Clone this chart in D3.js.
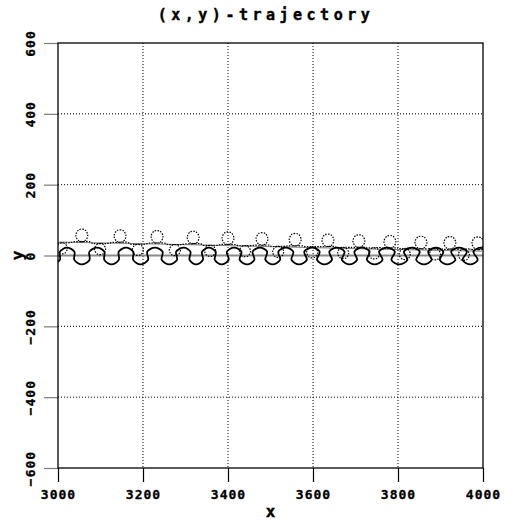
<!DOCTYPE html>
<html>
<head>
<meta charset="utf-8">
<script src="https://cdn.jsdelivr.net/npm/d3@7"></script>
<style>
  body { margin: 0; background: #fff; }
  text { font-family: "DejaVu Sans Mono", monospace; font-weight: bold; fill: #000; }
</style>
</head>
<body>
<div id="chart"></div>
<script>
// axis ticks
const xTicks = [3000, 3200, 3400, 3600, 3800, 4000];
const yTicks = [-600, -400, -200, 0, 200, 400, 600];

// solid trajectory: crests and troughs (x)
const solidPeakX   = [3021, 3092, 3160, 3228, 3296, 3355, 3414, 3475, 3536, 3598, 3656, 3715, 3774, 3833, 3889, 3944, 3995];
const solidTroughX = [2988, 3056, 3126, 3194, 3262, 3325, 3385, 3445, 3505, 3567, 3627, 3686, 3745, 3803, 3861, 3916, 3970, 4022];
const solidPeakY = 22;
const solidTroughY = -25;
// backward lean of the flanks (small loops on the right)
const solidLean = [0, 0, 0, 0, 0, 0, 1, 1, 1, 1, 1, 1, 2, 2, 2, 2, 2, 2, 3, 3, 3, 3, 3, 3, 4, 4, 4, 4, 4, 4, 5, 5, 5, 5];

// dotted trajectory: upper loops and lower loops (centre x, centre y)
const upperLoopX = [3056, 3146, 3233, 3318, 3400, 3480, 3558, 3635, 3708, 3781, 3854, 3922, 3988];
const upperLoopY = [57, 55, 53, 51, 49, 47, 45, 43, 41, 39, 37, 36, 35];
const lowerLoopX = [3009, 3099, 3188, 3275, 3358, 3440, 3518, 3598, 3671, 3744, 3816, 3887, 3955, 4020];
const lowerLoopY = [20, 18, 16, 15, 13, 12, 10, 9, 7, 6, 4, 3, 2, 1];
const upperLoopR = [14, 18];   // x, y radius in data units
const lowerLoopR = [13, 16];

// thin guiding line
const guideX = [3000, 3250, 3500, 3750, 4000];
const guideY = [38, 32, 25, 18, 12];

const width = 505, height = 523;
const margin = {top: 43, right: 22, bottom: 55, left: 58};

const x = d3.scaleLinear().domain([3000, 4000]).range([margin.left, width - margin.right]);
const y = d3.scaleLinear().domain([-600, 600]).range([height - margin.bottom, margin.top]);

const svg = d3.select("#chart").append("svg")
    .attr("width", width)
    .attr("height", height);

svg.append("defs").append("clipPath")
    .attr("id", "plot-clip")
  .append("rect")
    .attr("x", x(3000)).attr("y", y(600))
    .attr("width", x(4000) - x(3000))
    .attr("height", y(-600) - y(600));

// title
svg.append("text")
    .attr("x", 266).attr("y", 20)
    .attr("text-anchor", "middle")
    .style("font-size", "15px")
    .style("letter-spacing", "4.5px")
    .style("stroke", "#000").style("stroke-width", 0.4)
    .text("(x,y)-trajectory");

// grid
const grid = svg.append("g");
grid.selectAll(".gx")
  .data(xTicks.slice(1, -1))
  .join("line")
    .attr("x1", d => x(d)).attr("x2", d => x(d))
    .attr("y1", y(600)).attr("y2", y(-600))
    .attr("stroke", "#000").attr("stroke-width", 1)
    .attr("stroke-dasharray", "1,2");
grid.selectAll(".gy")
  .data(yTicks.slice(1, -1).filter(d => d !== 0))
  .join("line")
    .attr("x1", x(3000)).attr("x2", x(4000))
    .attr("y1", d => y(d)).attr("y2", d => y(d))
    .attr("stroke", "#000").attr("stroke-width", 1)
    .attr("stroke-dasharray", "1,2");
grid.append("line")
    .attr("x1", x(3000)).attr("x2", x(4000))
    .attr("y1", y(0)).attr("y2", y(0))
    .attr("stroke", "#8a8a8a").attr("stroke-width", 2);

// axes
const labelStyle = sel => sel
    .attr("fill", "#000")
    .style("font-size", "13px")
    .style("letter-spacing", "1px")
    .style("font-family", "'DejaVu Sans Mono', monospace")
    .style("font-weight", "bold")
    .style("stroke", "#000").style("stroke-width", 0.3);

const xAxis = svg.append("g")
    .attr("transform", `translate(0,${y(-600)})`)
    .call(d3.axisBottom(x).tickValues(xTicks).tickSize(14).tickFormat(d3.format("d")));
xAxis.select(".domain").remove();
xAxis.selectAll(".tick line").attr("stroke", "#000").attr("stroke-width", 1.2);
xAxis.selectAll(".tick text").attr("y", 22).call(labelStyle);

const yAxis = svg.append("g")
    .attr("transform", `translate(${x(3000)},0)`)
    .call(d3.axisLeft(y).tickValues(yTicks).tickSize(14).tickFormat(d3.format("d")));
yAxis.select(".domain").remove();
yAxis.selectAll(".tick line").attr("stroke", "#7a7a7a").attr("stroke-width", 1.2);
yAxis.selectAll(".tick text")
    .attr("x", 0).attr("dy", null)
    .attr("transform", "translate(-28,0) rotate(-90)")
    .attr("text-anchor", "middle")
    .attr("dominant-baseline", "central")
    .call(labelStyle);

// frame
svg.append("rect")
    .attr("x", x(3000)).attr("y", y(600))
    .attr("width", x(4000) - x(3000))
    .attr("height", y(-600) - y(600))
    .attr("fill", "none").attr("stroke", "#000").attr("stroke-width", 1.3);

// axis titles
svg.append("text")
    .attr("x", (x(3000) + x(4000)) / 2).attr("y", 517)
    .attr("text-anchor", "middle")
    .style("font-size", "16px")
    .style("stroke", "#000").style("stroke-width", 0.4)
    .text("x");
svg.append("text")
    .attr("transform", `translate(17,${y(0)}) rotate(-90)`)
    .attr("text-anchor", "middle")
    .attr("dominant-baseline", "central")
    .style("font-size", "16px")
    .style("stroke", "#000").style("stroke-width", 0.4)
    .text("y");

const plot = svg.append("g").attr("clip-path", "url(#plot-clip)");
const line = d3.line().x(d => x(d[0])).y(d => y(d[1])).curve(d3.curveCatmullRom.alpha(0.5));

// thin guiding line
plot.append("path")
    .datum(guideX.map((d, i) => [d, guideY[i]]))
    .attr("d", d3.line().x(d => x(d[0])).y(d => y(d[1])).curve(d3.curveMonotoneX))
    .attr("fill", "none").attr("stroke", "#808080").attr("stroke-width", 1);

// dotted trajectory
const loops = upperLoopX.map((d, i) => ({cx: d, cy: upperLoopY[i], up: true}))
  .concat(lowerLoopX.map((d, i) => ({cx: d, cy: lowerLoopY[i], up: false})))
  .sort((a, b) => a.cx - b.cx);
const dotted = [[2960, 40]];
loops.forEach(l => {
  const [rx, ry] = l.up ? upperLoopR : lowerLoopR;
  const s = l.up ? 1 : -1;
  dotted.push([l.cx - 1.3 * rx, l.cy - s * ry]);
  [300, 0, 60, 120, 180, 240].forEach(a => {
    const t = a * Math.PI / 180;
    dotted.push([l.cx + rx * Math.cos(t), l.cy + s * ry * Math.sin(t)]);
  });
  dotted.push([l.cx + 1.3 * rx, l.cy - s * ry]);
});
plot.append("path")
    .datum(dotted)
    .attr("d", line)
    .attr("fill", "none").attr("stroke", "#000").attr("stroke-width", 1.2)
    .attr("stroke-dasharray", "1.5,1.3");

// solid trajectory
const extremes = solidPeakX.map(d => [d, solidPeakY])
  .concat(solidTroughX.map(d => [d, solidTroughY]))
  .sort((a, b) => a[0] - b[0]);
const solid = [];
extremes.forEach((e, i) => {
  solid.push(e);
  const n = extremes[i + 1];
  if (!n) return;
  const xc = (e[0] + n[0]) / 2, lean = solidLean[Math.min(i, solidLean.length - 1)];
  solid.push([xc + lean, e[1] * 0.5]);
  solid.push([xc - lean, n[1] * 0.5]);
});
plot.append("path")
    .datum(solid)
    .attr("d", line)
    .attr("fill", "none").attr("stroke", "#000").attr("stroke-width", 1.8);
</script>
</body>
</html>
